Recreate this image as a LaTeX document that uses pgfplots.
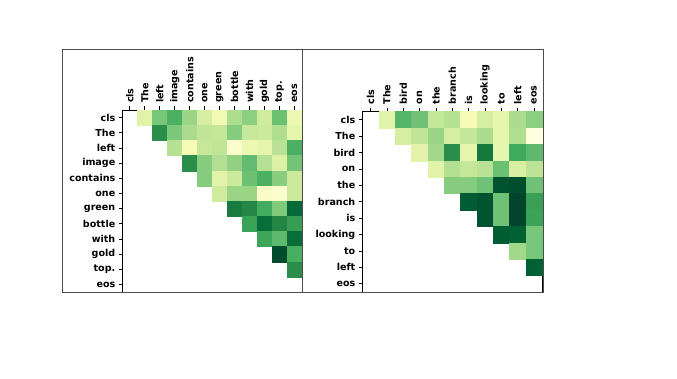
\documentclass[border=0pt]{standalone}
\usepackage{pgfplots}
\pgfplotsset{compat=1.18}
\usepackage{pgfplotstable}
\usepackage{fontspec}
\setmainfont{DejaVu Sans}
\pgfplotsset{colormap={YlGn}{rgb255=(255,255,229) rgb255=(247,252,185) rgb255=(217,240,163) rgb255=(173,221,142) rgb255=(120,198,121) rgb255=(65,171,93) rgb255=(35,132,67) rgb255=(0,104,55) rgb255=(0,69,41)}}

\pgfplotstableread{
x y v
1 0 .22
2 0 .50
3 0 .60
4 0 .42
5 0 .26
6 0 .15
7 0 .375
8 0 .45
9 0 .28
10 0 .53
11 0 .17
2 1 .72
3 1 .49
4 1 .38
5 1 .32
6 1 .31
7 1 .47
8 1 .30
9 1 .29
10 1 .37
11 1 .20
3 2 .35
4 2 .13
5 2 .30
6 2 .32
7 2 .07
8 2 .17
9 2 .20
10 2 .34
11 2 .60
4 3 .72
5 3 .47
6 3 .36
7 3 .44
8 3 .55
9 3 .35
10 3 .24
11 3 .51
5 4 .47
6 4 .21
7 4 .29
8 4 .53
9 4 .60
10 4 .46
11 4 .29
6 5 .28
7 5 .42
8 5 .42
9 5 .09
10 5 .07
11 5 .29
7 6 .79
8 6 .74
9 6 .62
10 6 .48
11 6 .87
8 7 .65
9 7 .85
10 7 .75
11 7 .67
9 8 .64
10 8 .56
11 8 .85
10 9 .98
11 9 .61
11 10 .72
}\lefttab

\pgfplotstableread{
x y v
1 0 .22
2 0 .58
3 0 .52
4 0 .31
5 0 .35
6 0 .13
7 0 .26
8 0 .20
9 0 .38
10 0 .45
2 1 .26
3 1 .32
4 1 .42
5 1 .26
6 1 .31
7 1 .38
8 1 .20
9 1 .37
10 1 .02
3 2 .21
4 2 .40
5 2 .72
6 2 .20
7 2 .80
8 2 .19
9 2 .63
10 2 .56
4 3 .22
5 3 .36
6 3 .31
7 3 .34
8 3 .53
9 3 .25
10 3 .33
5 4 .47
6 4 .47
7 4 .52
8 4 .95
9 4 .97
10 4 .52
6 5 .92
7 5 .95
8 5 .52
9 5 1.0
10 5 .66
7 6 .95
8 6 .52
9 6 1.0
10 6 .65
8 7 .92
9 7 .90
10 7 .50
9 8 .40
10 8 .50
10 9 .90
}\righttab

\pgfplotsset{
  hm/.style={
    scale only axis,
    anchor=north west,
    y dir=reverse,
    colormap name=YlGn,
    point meta min=0, point meta max=1,
    xtick pos=upper, xticklabel pos=upper,
    ytick pos=left,
    tick align=outside,
    major tick length=3.5bp,
    tick style={black, line width=0.6bp},
    axis line style={black, line width=0.7bp},
    ticklabel style={font=\fontsize{9.6}{11}\selectfont\bfseries, text=black},
    xticklabel style={rotate=90, anchor=west},
    axis on top,
  },
}

\begin{document}
\begin{tikzpicture}
\path[fill=white] (0,0) rectangle (677bp,379bp);
\begin{axis}[hm,
  at={(122.3bp,269bp)}, width=179.7bp, height=182bp,
  xmin=-0.5, xmax=11.5, ymin=-0.5, ymax=11.5,
  xtick={0,...,11}, ytick={0,...,11},
  xticklabels={cls,The,left,image,contains,one,green,bottle,with,gold,top.,eos},
  yticklabels={cls,The,left,image,contains,one,green,bottle,with,gold,top.,eos},
]
\addplot[scatter, only marks, mark=square*, mark size=7.5bp, point meta=explicit,
  mark options={yscale=1.012, line width=0.3bp},
  scatter/use mapped color={draw=mapped color, fill=mapped color}]
  table[x=x, y=y, meta=v] {\lefttab};
\end{axis}
\begin{axis}[hm,
  at={(362.3bp,267.5bp)}, width=180bp, height=180.5bp,
  xmin=-0.5, xmax=10.5, ymin=-0.5, ymax=10.5,
  xtick={0,...,10}, ytick={0,...,10},
  xticklabels={cls,The,bird,on,the,branch,is,looking,to,left,eos},
  yticklabels={cls,The,bird,on,the,branch,is,looking,to,left,eos},
]
\addplot[scatter, only marks, mark=square*, mark size=8.18bp, point meta=explicit,
  mark options={line width=0.3bp},
  scatter/use mapped color={draw=mapped color, fill=mapped color}]
  table[x=x, y=y, meta=v] {\righttab};
\end{axis}
\draw[line width=0.9bp, black!70] (62bp,330bp) rectangle (543bp,87bp);
\draw[line width=0.9bp, black!70] (302bp,330bp) -- (302bp,87bp);
\end{tikzpicture}
\end{document}
